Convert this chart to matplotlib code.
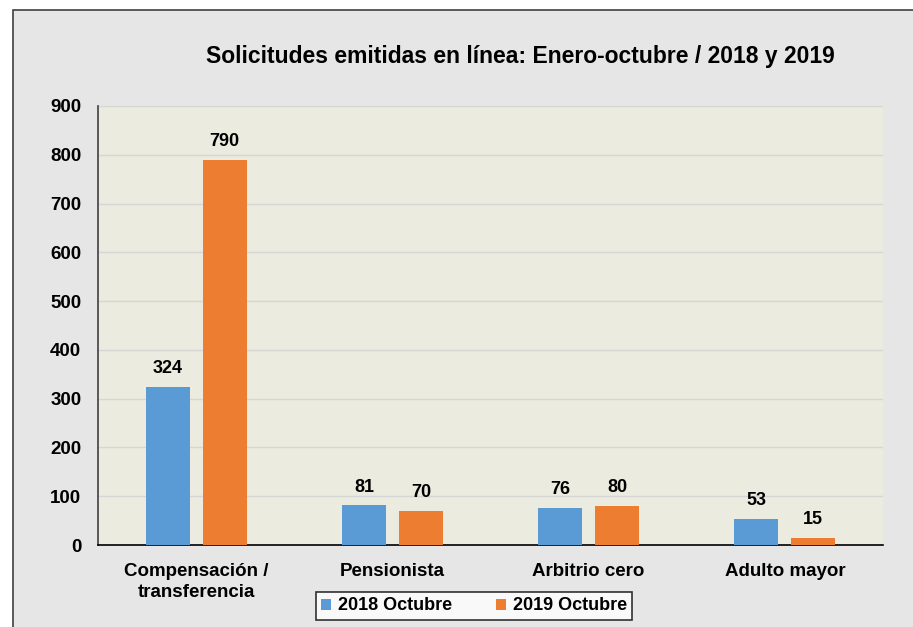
import matplotlib
matplotlib.use("Agg")
import matplotlib.pyplot as plt
from matplotlib.patches import Rectangle
import numpy as np

plt.rcParams['font.family'] = ['Liberation Sans', 'DejaVu Sans']

categories = ["Compensación /\ntransferencia", "Pensionista", "Arbitrio cero", "Adulto mayor"]
series_names = ["2018 Octubre", "2019 Octubre"]
values_2018 = [324, 81, 76, 53]
values_2019 = [790, 70, 80, 15]
yticks = [0, 100, 200, 300, 400, 500, 600, 700, 800, 900]
title = "Solicitudes emitidas en línea: Enero-octubre / 2018 y 2019"

W, H = 913, 627
fig = plt.figure(figsize=(W/100, H/100), dpi=100)
fig.patch.set_facecolor("white")
# outer chart frame
fig.patches.append(Rectangle((13/W, -0.05), 1.0, (H-10)/H + 0.05, transform=fig.transFigure,
                             facecolor="#e6e6e6", edgecolor="#404040", linewidth=1.2, zorder=-10))

ax = fig.add_axes([98/W, (H-545)/H, 785/W, 439/H])
ax.set_zorder(1)
ax.set_facecolor("#ecebdf")

x = np.arange(len(categories))
bw = 0.225
off = 0.145
b1 = ax.bar(x - off, values_2018, bw, color="#5b9bd5", label=series_names[0], zorder=3)
b2 = ax.bar(x + off, values_2019, bw, color="#ed7d31", label=series_names[1], zorder=3)

for bars, vals in ((b1, values_2018), (b2, values_2019)):
    for r, v in zip(bars, vals):
        ax.text(r.get_x() + r.get_width()/2, v + 20, f"{v}", ha="center", va="bottom",
                fontsize=13, fontweight="bold", color="black")

ax.set_xlim(-0.5, len(categories) - 0.5)
ax.set_ylim(0, 900)
ax.set_yticks(yticks)
ax.set_yticklabels([str(t) for t in yticks], fontsize=13.5, fontweight="bold")
ax.set_xticks(x)
ax.set_xticklabels(categories, fontsize=13.5, fontweight="bold", linespacing=1.3)
ax.tick_params(axis="both", length=0)
ax.tick_params(axis="y", pad=12)
ax.tick_params(axis="x", pad=13)
ax.grid(axis="y", color="#d6d6d6", linewidth=1, zorder=0)
for s in ["top", "right"]:
    ax.spines[s].set_visible(False)
ax.spines["left"].set_color("#404040")
ax.spines["left"].set_linewidth(1.2)
ax.spines["bottom"].set_color("black")
ax.spines["bottom"].set_linewidth(1.2)

fig.text(520/W, 1 - 57/H, title, ha="center", va="center", fontsize=16.5, fontweight="bold")

leg = fig.legend(handles=[b1, b2], labels=series_names, loc="center",
                 bbox_to_anchor=(474/W, 1 - 606/H), ncol=2, frameon=True, fancybox=False,
                 prop={"size": 13, "weight": "bold"}, handlelength=0.55, handleheight=0.55,
                 handletextpad=0.4, columnspacing=2.4, borderpad=0.3, borderaxespad=0.0)
leg.get_frame().set_edgecolor("black")
leg.get_frame().set_linewidth(1.2)
leg.get_frame().set_facecolor("white")
leg.set_zorder(5)

fig.savefig("out.png", dpi=100)
